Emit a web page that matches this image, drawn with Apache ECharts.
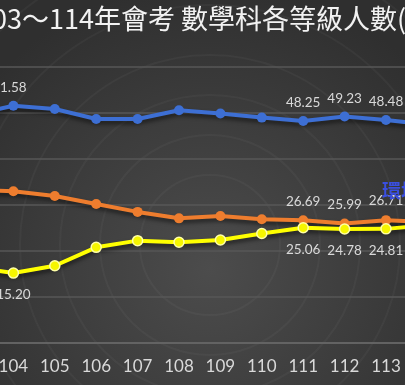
<!DOCTYPE html>
<html><head><meta charset="utf-8">
<script src="https://cdn.jsdelivr.net/npm/echarts@6/dist/echarts.min.js"></script>
<style>
html,body{margin:0;padding:0;width:405px;height:385px;overflow:hidden;background:#3a3a3a;}
#c{position:absolute;left:-100px;top:0;width:620px;height:385px;}
</style></head>
<body><div id="c"></div>
<script>
const years = ['103','104','105','106','107','108','109','110','111','112','113','114'];
const seriesB = [49.6, 51.58, 50.87, 48.7, 48.7, 50.6, 49.9, 49.0, 48.25, 49.23, 48.48, 47.5];
const seriesA = [33.3, 33.0, 31.96, 30.2, 28.5, 27.1, 27.6, 26.9, 26.69, 25.99, 26.71, 26.3];
const seriesC = [16.5, 15.20, 16.8, 20.8, 22.25, 21.9, 22.4, 23.8, 25.06, 24.78, 24.81, 25.6];
const labeledB = [0, 1, 8, 9, 10, 11];
const labeledA = [0, 8, 9, 10, 11];
const labeledC = [0, 1, 8, 9, 10, 11];
const yTicks = [0, 10, 20, 30, 40, 50, 60];

function build(vals, labeled, shiftIdx){
  return vals.map((v,i)=> {
    if (labeled.indexOf(i) < 0) return {value:v};
    const lab = {show:true};
    if (i === shiftIdx) lab.offset = [-4, 0];
    return {value:v, label:lab};
  });
}
const chart = echarts.init(document.getElementById('c'), null, {renderer:'canvas'});
const labelBase = {color:'#d9d9d9', fontSize:13.5, fontFamily:'Lato, "Noto Sans", sans-serif',
  formatter: p => p.value.toFixed(2)};
const shadow = {shadowColor:'rgba(0,0,0,0.55)', shadowBlur:4, shadowOffsetY:3};
const rings = [70, 110, 150, 190, 240, 300].map(r=>({
  type:'circle', shape:{cx:310, cy:245, r:r}, silent:true, z:-10,
  style:{fill:null, stroke:'rgba(255,255,255,0.035)', lineWidth:2}
}));
chart.setOption({
  backgroundColor:{type:'radial', x:0.5, y:0.7, r:0.75,
    colorStops:[{offset:0,color:'#4c4c4c'},{offset:1,color:'#2f2f2f'}]},
  animation:false,
  title:{text:'103～114年會考 數學科各等級人數(百分比)', left:72, top:0,
    textStyle:{color:'#f2f2f2', fontSize:27, fontWeight:'normal', fontFamily:'"Noto Sans CJK TC", sans-serif'}},
  graphic: rings.concat([{
    type:'text', left:482, top:181, z:10,
    style:{text:'環境', fill:'#3a4fe0', font:'bold 19px "Noto Sans CJK TC", sans-serif'}
  }]),
  grid:{left:51.3, width:496.8, top:67, height:276},
  xAxis:{type:'category', data:years, boundaryGap:true,
    axisLine:{lineStyle:{color:'#6a6a6a', width:1.5}}, axisTick:{show:false},
    axisLabel:{color:'#d9d9d9', fontSize:17, margin:15, fontFamily:'Lato, "Noto Sans", sans-serif'}},
  yAxis:{type:'value', min:yTicks[0], max:yTicks[yTicks.length-1], interval:10,
    axisLabel:{show:false}, axisLine:{show:false}, axisTick:{show:false},
    splitLine:{lineStyle:{color:'#575757', width:1.5}}},
  series:[
    {name:'基礎', type:'line', data:build(seriesB, labeledB, 1), symbol:'circle', symbolSize:10,
     lineStyle:Object.assign({color:'#3d6fd4', width:4}, shadow), itemStyle:{color:'#3d6fd4'},
     label:Object.assign({position:'top', distance:6}, labelBase), z:3},
    {name:'精熟', type:'line', data:build(seriesA, labeledA, -1), symbol:'circle', symbolSize:10,
     lineStyle:Object.assign({color:'#ee7d2e', width:4}, shadow), itemStyle:{color:'#ee7d2e'},
     label:Object.assign({position:'top', distance:7}, labelBase), z:3},
    {name:'待加強', type:'line', data:build(seriesC, labeledC, -1), symbol:'circle', symbolSize:10,
     lineStyle:Object.assign({color:'#ffff00', width:4}, shadow), itemStyle:{color:'#f6f600', borderColor:'#ffffa8', borderWidth:1.5},
     label:Object.assign({position:'bottom', distance:9}, labelBase), z:3}
  ]
});
</script></body></html>
